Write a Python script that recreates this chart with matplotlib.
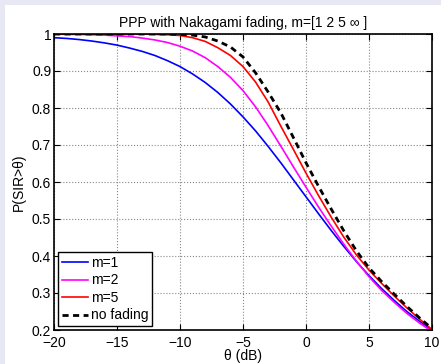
import matplotlib
matplotlib.use("Agg")
import matplotlib.pyplot as plt
from matplotlib.patches import Rectangle

plt.rcParams['font.family'] = ['Liberation Sans', 'DejaVu Sans']
plt.rcParams['axes.unicode_minus'] = True

# theta in dB
theta_db = list(range(-20, 11))

# success probabilities
p_m1 = [0.990, 0.988, 0.985, 0.981, 0.976, 0.970, 0.962, 0.953, 0.942, 0.928,
        0.912, 0.892, 0.869, 0.842, 0.811, 0.776, 0.738, 0.696, 0.652, 0.606,
        0.560, 0.514, 0.469, 0.426, 0.385, 0.347, 0.312, 0.280, 0.250, 0.224,
        0.200]
p_m2 = [1.000, 0.999, 0.999, 0.998, 0.997, 0.995, 0.993, 0.989, 0.984, 0.977,
        0.967, 0.954, 0.936, 0.912, 0.883, 0.847, 0.803, 0.752, 0.697, 0.641,
        0.586, 0.532, 0.481, 0.432, 0.386, 0.344, 0.307, 0.275, 0.245, 0.219,
        0.196]
p_m5 = [1.000, 1.000, 1.000, 1.000, 1.000, 1.000, 1.000, 1.000, 0.999, 0.998,
        0.996, 0.990, 0.980, 0.963, 0.942, 0.912, 0.870, 0.816, 0.751, 0.688,
        0.624, 0.563, 0.505, 0.451, 0.403, 0.362, 0.326, 0.292, 0.260, 0.230,
        0.201]
p_nofade = [1.000, 1.000, 1.000, 1.000, 1.000, 1.000, 1.000, 1.000, 1.000, 1.000,
            0.999, 0.997, 0.992, 0.981, 0.965, 0.938, 0.895, 0.843, 0.787, 0.720,
            0.652, 0.588, 0.527, 0.468, 0.414, 0.368, 0.331, 0.297, 0.264, 0.233,
            0.204]

labels = ['m=1', 'm=2', 'm=5', 'no fading']

fig = plt.figure(figsize=(4.41, 3.64), dpi=100, facecolor='#e8e8f5')
fig.patches.append(Rectangle((5 / 441, 0), 1, 1 - 5 / 364, transform=fig.transFigure,
                             facecolor='white', edgecolor='none', zorder=-10))

ax = fig.add_axes([54 / 441, 1 - 330 / 364, (432 - 54) / 441, (330 - 34) / 364])

ax.plot(theta_db, p_m1, color='#0000ff', lw=1.2, label=labels[0])
ax.plot(theta_db, p_m2, color='#ff00ff', lw=1.2, label=labels[1])
ax.plot(theta_db, p_m5, color='#ff0000', lw=1.2, label=labels[2])
ax.plot(theta_db, p_nofade, color='black', lw=2.0, ls=(0, (2.2, 1.6)), label=labels[3])

ax.set_xlim(-20, 10)
ax.set_ylim(0.2, 1)
ax.set_xticks(range(-20, 11, 5))
ax.set_yticks([0.2, 0.3, 0.4, 0.5, 0.6, 0.7, 0.8, 0.9, 1])
ax.set_yticklabels(['0.2', '0.3', '0.4', '0.5', '0.6', '0.7', '0.8', '0.9', '1'])
ax.grid(True, color='#888888', ls=':', lw=0.8)
ax.tick_params(direction='in', top=True, right=True, labelsize=10, length=4, pad=2)
ax.tick_params(axis='x', pad=4.5)
for s in ax.spines.values():
    s.set_linewidth(1.2)

ax.set_title('PPP with Nakagami fading, m=[1 2 5 \u221e ]', fontsize=10, pad=5)
ax.set_xlabel('\u03b8 (dB)', fontsize=10, labelpad=-1)
ax.set_ylabel('P(SIR>\u03b8)', fontsize=10, labelpad=4)

leg = ax.legend(loc='lower left', fontsize=10, fancybox=False, framealpha=1,
                edgecolor='black', handlelength=1.9, handletextpad=0.2,
                labelspacing=0.25, borderpad=0.25, borderaxespad=0.3)
leg.get_frame().set_linewidth(1.0)

fig.savefig('out.png', dpi=100, facecolor=fig.get_facecolor())
